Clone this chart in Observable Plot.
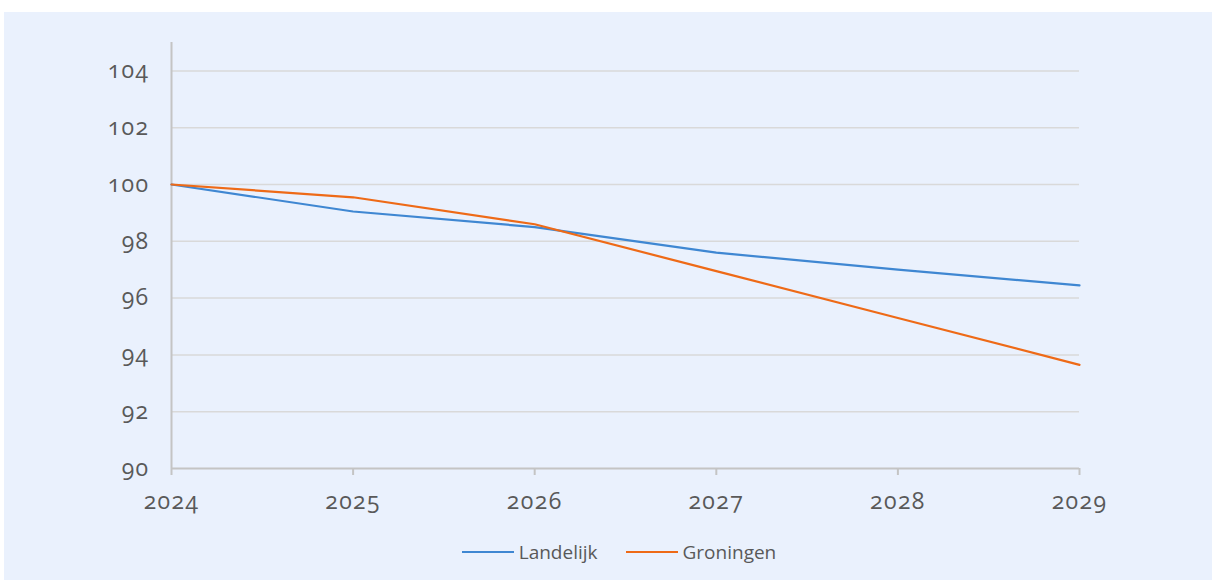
<!DOCTYPE html>
<html>
<head>
<meta charset="utf-8">
<script src="https://cdn.jsdelivr.net/npm/d3@7"></script>
<script src="https://cdn.jsdelivr.net/npm/@observablehq/plot@0.6"></script>
<style>
  html, body { margin: 0; padding: 0; background: #ffffff; }
  body { width: 1212px; height: 580px; position: relative; overflow: hidden; font-family: "Open Sans", Lato, sans-serif; }
  #panel { position: absolute; left: 4px; top: 12px; width: 1208px; height: 568px; background: #eaf1fd; }
  #chart svg { display: block; font-variant-numeric: oldstyle-nums; font-feature-settings: "onum" 1; letter-spacing: 1.4px; }
  #legend { position: absolute; left: 11px; width: 1208px; top: 527px; display: flex; justify-content: center; align-items: center; font-size: 19px; color: #595959; }
  .item { display: flex; align-items: center; margin: 0 14px; }
  .swatch { width: 52px; height: 0; border-top: 2.2px solid; margin-right: 5px; }
</style>
</head>
<body>
<div id="panel">
  <div id="chart"></div>
  <div id="legend"></div>
</div>
<script>
const years = [2024, 2025, 2026, 2027, 2028, 2029];
const seriesNames = ["Landelijk", "Groningen"];
const landelijk = [100, 99.05, 98.5, 97.6, 97.0, 96.45];
const groningen = [100, 99.55, 98.6, 96.95, 95.3, 93.65];
const yTicks = [90, 92, 94, 96, 98, 100, 102, 104];
const colors = ["#3f87d2", "#ee6a17"];

const data = [];
years.forEach((yr, i) => {
  data.push({year: yr, value: landelijk[i], series: seriesNames[0]});
  data.push({year: yr, value: groningen[i], series: seriesNames[1]});
});

const chart = Plot.plot({
  width: 1208,
  height: 510,
  marginTop: 30,
  marginLeft: 167,
  marginRight: 133,
  marginBottom: 54,
  style: {background: "transparent", fontFamily: "'Open Sans', Lato, sans-serif", color: "#595959"},
  x: {domain: [2024, 2029], type: "linear"},
  y: {domain: [90, 105]},
  color: {domain: seriesNames, range: colors},
  marks: [
    Plot.ruleY(yTicks.filter(d => d > 90), {stroke: "#d9d9d9", strokeWidth: 1.5}),
    Plot.ruleY([90], {stroke: "#c4c4c4", strokeWidth: 2}),
    Plot.ruleX([2024], {y1: 90, y2: 105, stroke: "#c4c4c4", strokeWidth: 2}),
    Plot.axisY({ticks: yTicks, tickSize: 0, tickPadding: 22, fontSize: 23, tickFormat: d => String(d), label: null}),
    Plot.axisX({ticks: years, tickSize: 7, tickPadding: 17, fontSize: 23, tickFormat: d => String(d), label: null, stroke: "#c4c4c4", strokeWidth: 2}),
    Plot.line(data, {x: "year", y: "value", z: "series", stroke: "series", strokeWidth: 2.2})
  ]
});
document.getElementById("chart").appendChild(chart);

const legend = document.getElementById("legend");
seriesNames.forEach((name, i) => {
  const item = document.createElement("div");
  item.className = "item";
  const sw = document.createElement("span");
  sw.className = "swatch";
  sw.style.borderTopColor = colors[i];
  const label = document.createElement("span");
  label.textContent = name;
  item.appendChild(sw);
  item.appendChild(label);
  legend.appendChild(item);
});
</script>
</body>
</html>
